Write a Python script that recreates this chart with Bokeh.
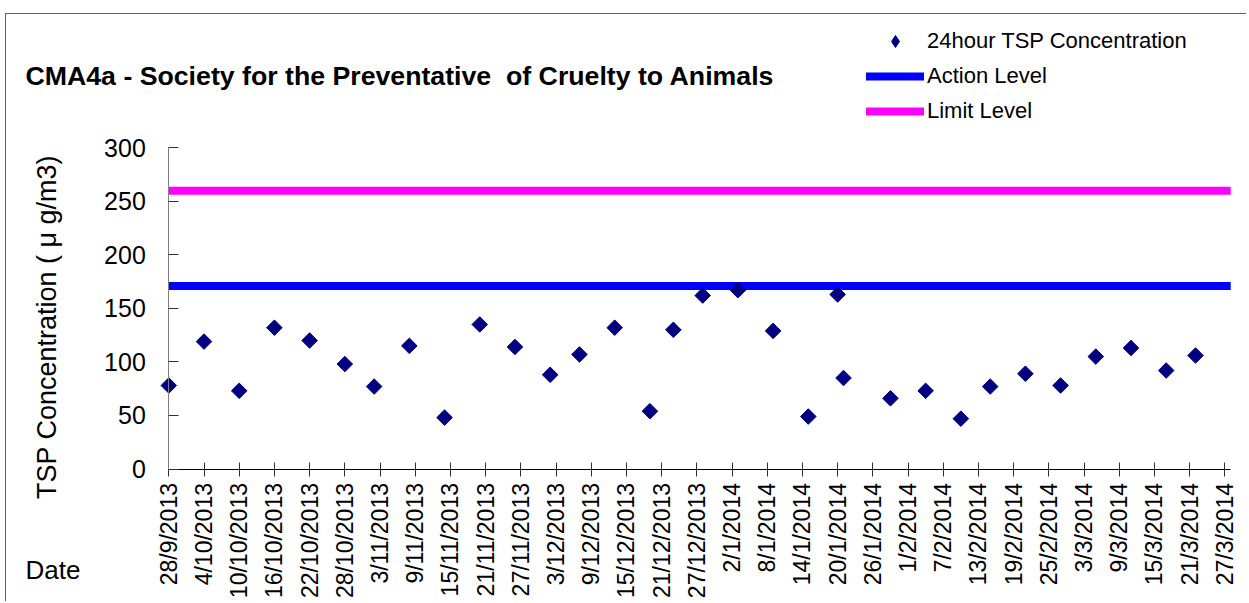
import datetime as dt
from math import pi

from bokeh.plotting import figure
from bokeh.models import Range1d, FixedTicker, Label, Legend, LegendItem
from bokeh.embed import file_html
from bokeh.resources import INLINE

# ---------------- data ----------------
title_text = "CMA4a - Society for the Preventative \u00a0of Cruelty to Animals"
y_label_text = "TSP Concentration ( \u03bc g/m3)"
x_label_text = "Date"

sample_dates = ["28/9/2013", "4/10/2013", "10/10/2013", "16/10/2013", "22/10/2013",
                "28/10/2013", "2/11/2013", "8/11/2013", "14/11/2013", "20/11/2013",
                "26/11/2013", "2/12/2013", "7/12/2013", "13/12/2013", "19/12/2013",
                "23/12/2013", "28/12/2013", "3/1/2014", "9/1/2014", "15/1/2014",
                "20/1/2014", "21/1/2014", "29/1/2014", "4/2/2014", "10/2/2014",
                "15/2/2014", "21/2/2014", "27/2/2014", "5/3/2014", "11/3/2014",
                "17/3/2014", "22/3/2014"]
tsp_values = [78, 119, 73, 132, 120, 98, 77, 115, 48, 135,
              114, 88, 107, 132, 54, 130, 162, 167, 129, 49,
              163, 85, 66, 73, 47, 77, 89, 78, 105, 113,
              92, 106]

action_level = 171
limit_level = 260

tick_labels = ["28/9/2013", "4/10/2013", "10/10/2013", "16/10/2013", "22/10/2013",
               "28/10/2013", "3/11/2013", "9/11/2013", "15/11/2013", "21/11/2013",
               "27/11/2013", "3/12/2013", "9/12/2013", "15/12/2013", "21/12/2013",
               "27/12/2013", "2/1/2014", "8/1/2014", "14/1/2014", "20/1/2014",
               "26/1/2014", "1/2/2014", "7/2/2014", "13/2/2014", "19/2/2014",
               "25/2/2014", "3/3/2014", "9/3/2014", "15/3/2014", "21/3/2014",
               "27/3/2014"]
y_ticks = [0, 50, 100, 150, 200, 250, 300]
axis_start_date = "28/9/2013"
axis_end_date = "28/3/2014"

series_name = "24hour TSP Concentration"
action_name = "Action Level"
limit_name = "Limit Level"


def parse(s):
    return dt.datetime.strptime(s, "%d/%m/%Y")


t0 = parse(axis_start_date)


def day(s):
    return (parse(s) - t0).days


x_vals = [day(s) for s in sample_dates]
tick_days = [day(s) for s in tick_labels]
x_start = day(axis_start_date)
x_end = day(axis_end_date)
y_top_tick = y_ticks[-1]

# ---------------- layout (pixels) ----------------
W, H = 1241, 588            # canvas size
CANVAS_LEFT, CANVAS_TOP = 6, 14   # page position of canvas
ORIGIN_X = 168.3            # page x of the y axis (first date)
ZERO_Y = 468.5              # page y of value 0
TOP_Y = 147.3               # page y of value 300
PX_PER_DAY = 5.867

px_per_unit = (ZERO_Y - TOP_Y) / y_top_tick
x_lo = x_start - (ORIGIN_X - CANVAS_LEFT) / PX_PER_DAY
x_hi = x_start + (CANVAS_LEFT + W - ORIGIN_X) / PX_PER_DAY
y_hi = (ZERO_Y - CANVAS_TOP) / px_per_unit
y_lo = -(CANVAS_TOP + H - ZERO_Y) / px_per_unit


def sx(page_x):
    return page_x - CANVAS_LEFT


def sy(page_y):
    return CANVAS_TOP + H - page_y


FONT = "Liberation Sans"
NAN = float("nan")

p = figure(
    width=W, height=H, min_border=0,
    x_range=Range1d(x_lo, x_hi), y_range=Range1d(y_lo, y_hi),
    output_backend="svg", toolbar_location=None,
    background_fill_color="white", border_fill_color="white",
)
p.styles = {"margin-top": "13px", "margin-left": "5px",
            "border-top": "1px solid #606060",
            "border-left": "1px solid #606060"}
p.title.text = ""
p.title.visible = False
p.outline_line_color = None
p.xgrid.visible = False
p.ygrid.visible = False

# x axis (dates)
xa = p.xaxis[0]
xa.fixed_location = 0
xa.bounds = (x_start, x_end)
xa.ticker = FixedTicker(ticks=tick_days)
xa.major_label_overrides = {d: lab for d, lab in zip(tick_days, tick_labels)}
xa.major_label_orientation = pi / 2
xa.axis_line_color = "black"
xa.minor_tick_line_color = None
xa.major_tick_in = 7
xa.major_tick_out = 7
xa.major_tick_line_color = "#303030"
xa.major_label_standoff = 7
xa.major_label_text_font = FONT
xa.major_label_text_font_size = "23px"
xa.major_label_text_color = "black"

# y axis (concentration)
ya = p.yaxis[0]
ya.fixed_location = x_start
ya.bounds = (0, y_top_tick)
ya.ticker = FixedTicker(ticks=y_ticks)
ya.axis_line_color = "#808080"
ya.minor_tick_line_color = None
ya.major_tick_in = 10
ya.major_tick_out = 0
ya.major_tick_line_color = "#303030"
ya.major_label_standoff = 23
ya.major_label_text_font = FONT
ya.major_label_text_font_size = "25px"
ya.major_label_text_color = "black"

# level lines
p.line([x_start, x_end], [action_level, action_level], line_color="#0000FF",
       line_width=8, line_cap="butt")
p.line([x_start, x_end], [limit_level, limit_level], line_color="#FF00FF",
       line_width=8, line_cap="butt")

# points
p.scatter(x_vals, tsp_values, marker="square", angle=pi / 4, size=11,
          fill_color="#000080", line_color="#000080")

# legend-only glyphs (a single NaN point, never drawn in the plot area)
lg_pts = p.scatter([NAN], [NAN], marker="diamond", size=13,
                   fill_color="#000080", line_color="#000080")
lg_act = p.line([NAN], [NAN], line_color="#0000FF", line_width=8, line_cap="round")
lg_lim = p.line([NAN], [NAN], line_color="#FF00FF", line_width=8, line_cap="round")

legend = Legend(
    items=[LegendItem(label=series_name, renderers=[lg_pts]),
           LegendItem(label=action_name, renderers=[lg_act]),
           LegendItem(label=limit_name, renderers=[lg_lim])],
    location=(sx(866), sy(126)), orientation="vertical",
    glyph_width=58, glyph_height=30, label_height=30, spacing=5,
    padding=0, margin=0, label_standoff=3,
    border_line_color=None, background_fill_alpha=0,
    label_text_font=FONT, label_text_font_size="22px", label_text_color="black",
)
p.add_layout(legend)

p.add_layout(Label(x=sx(25), y=sy(75), x_units="screen", y_units="screen", text=title_text,
                   text_font=FONT, text_font_style="bold", text_font_size="26.7px",
                   text_baseline="alphabetic", text_align="left", text_color="black"))
p.add_layout(Label(x=sx(25), y=sy(569), x_units="screen", y_units="screen", text=x_label_text,
                   text_font=FONT, text_font_size="26px",
                   text_baseline="alphabetic", text_align="left", text_color="black"))
p.add_layout(Label(x=sx(46), y=sy(326.5), x_units="screen", y_units="screen", text=y_label_text,
                   angle=pi / 2, text_font=FONT, text_font_size="27px",
                   text_baseline="middle", text_align="center", text_color="black"))

open("out.html", "w").write(file_html(p, INLINE))
